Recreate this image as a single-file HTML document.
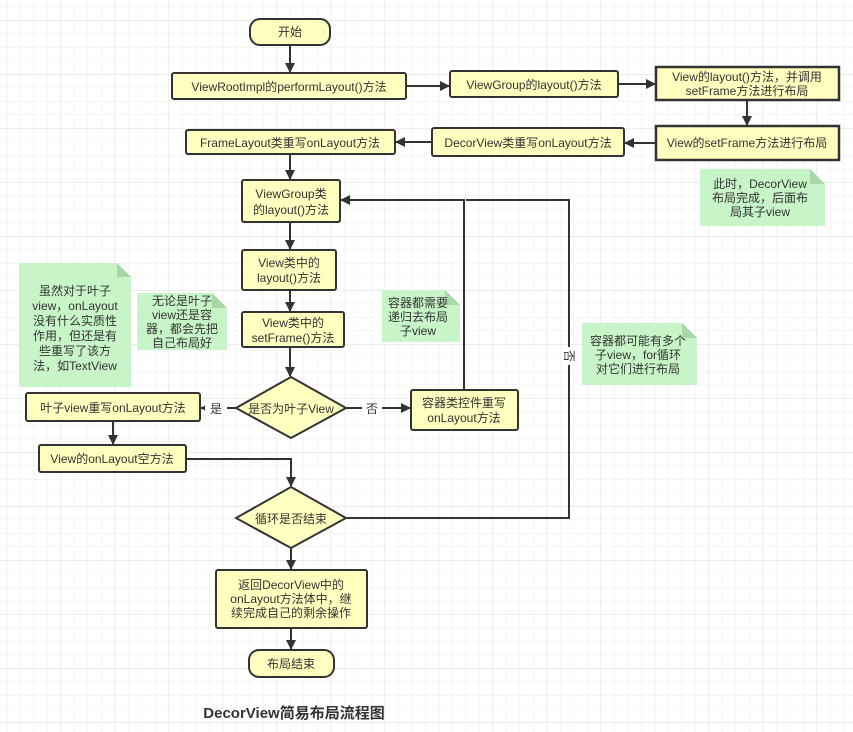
<!DOCTYPE html>
<html><head><meta charset="utf-8"><style>
html,body{margin:0;padding:0;background:#fff}
svg{display:block}
text{font-family:"Liberation Sans","Noto Sans CJK SC",sans-serif;font-size:12px;fill:#333}
</style></head><body>
<svg width="853" height="732" viewBox="0 0 853 732" xmlns="http://www.w3.org/2000/svg">
<defs>
<pattern id="minor" x="6.5" y="6.5" width="13.5" height="13.5" patternUnits="userSpaceOnUse">
<path d="M0 0H13.5M0 0V13.5" stroke="#f0f0f0" stroke-width="1.2" fill="none"/>
</pattern>
<pattern id="major" x="6.5" y="20" width="54" height="54" patternUnits="userSpaceOnUse">
<path d="M0 0H54M0 0V54" stroke="#e2e2e2" stroke-width="1.2" fill="none"/>
</pattern>
<marker id="a" markerWidth="10" markerHeight="10" refX="9" refY="5" orient="auto" markerUnits="userSpaceOnUse">
<path d="M0 0L10 5L0 10z" fill="#333"/>
</marker>
</defs>
<rect width="853" height="732" fill="url(#minor)"/>
<rect width="853" height="732" fill="url(#major)"/>

<g fill="#ffffc0" stroke="#333" stroke-width="2">
<rect x="250" y="19" width="80" height="26" rx="10"/>
<rect x="172" y="73" width="234" height="26" rx="2"/>
<rect x="450" y="71" width="168" height="26" rx="2"/>
<rect x="656" y="67" width="183" height="33" stroke-width="2.5"/>
<rect x="656" y="126" width="183" height="34" stroke-width="2.5"/>
<rect x="432" y="128" width="192" height="28" rx="2"/>
<rect x="186" y="130" width="209" height="24" rx="2"/>
<rect x="242" y="180" width="98" height="42" rx="2"/>
<rect x="242" y="250" width="94" height="40" rx="2"/>
<rect x="242" y="312" width="102" height="35" rx="2"/>
<polygon points="291,377 346,408 291,438 236,408"/>
<rect x="26" y="393" width="174" height="28" rx="2"/>
<rect x="411" y="390" width="107" height="40" rx="2"/>
<rect x="39" y="445" width="147" height="27" rx="2"/>
<polygon points="291,487 346,518 291,548 236,518"/>
<rect x="216" y="570" width="151" height="58" rx="2"/>
<rect x="249" y="650" width="85" height="27" rx="10"/>
</g>

<g fill="#c8f5c8">
<path d="M700 169H810L825 184V226H700z"/>
<path d="M19 263H117L131 277V387H19z"/>
<path d="M137 293H212L227 308V350H137z"/>
<path d="M382 290H445L460 305V342H382z"/>
<path d="M582 323H682L697 338V385H582z"/>
</g>
<g fill="#a8d8a8">
<path d="M810 169L825 184H810z"/><path d="M117 263L131 277H117z"/>
<path d="M212 293L227 308H212z"/><path d="M445 290L460 305H445z"/><path d="M682 323L697 338H682z"/>
</g>

<g stroke="#333" stroke-width="2" fill="none" marker-end="url(#a)">
<path d="M290 45V72"/>
<path d="M406 86H449"/>
<path d="M618 84H655"/>
<path d="M747 100V125"/>
<path d="M656 143H625"/>
<path d="M432 142H396"/>
<path d="M290 154V179"/>
<path d="M290 222V249"/>
<path d="M290 290V311"/>
<path d="M290 347V376"/>
<path d="M236 408H201"/>
<path d="M346 408H410"/>
<path d="M113 421V444"/>
<path d="M186 459H291V486"/>
<path d="M291 548V569"/>
<path d="M291 628V649"/>
<path d="M464 390V200H341"/>
<path d="M346 518H569V200H466" marker-end="none"/>
</g>
<rect x="205" y="400" width="22" height="16" fill="#fff"/>
<text x="216" y="413" text-anchor="middle">是</text>
<rect x="362" y="400" width="20" height="16" fill="#fff"/>
<text x="372" y="413" text-anchor="middle">否</text>
<rect x="561" y="347" width="16" height="18" fill="#fff"/>
<text x="569" y="356" text-anchor="middle" transform="rotate(90 569 356)" dy="4">否</text>

<g text-anchor="middle">
<text x="290" y="36">开始</text>
<text x="289" y="91">ViewRootImpl的performLayout()方法</text>
<text x="534" y="89">ViewGroup的layout()方法</text>
<text x="747" y="81">View的layout()方法，并调用</text>
<text x="747" y="95">setFrame方法进行布局</text>
<text x="747" y="147">View的setFrame方法进行布局</text>
<text x="528" y="147">DecorView类重写onLayout方法</text>
<text x="290" y="147">FrameLayout类重写onLayout方法</text>
<text x="291" y="198">ViewGroup类</text>
<text x="291" y="214">的layout()方法</text>
<text x="289" y="267">View类中的</text>
<text x="289" y="282">layout()方法</text>
<text x="293" y="327">View类中的</text>
<text x="293" y="342">setFrame()方法</text>
<text x="291" y="413">是否为叶子View</text>
<text x="113" y="412">叶子view重写onLayout方法</text>
<text x="464" y="407">容器类控件重写</text>
<text x="464" y="422">onLayout方法</text>
<text x="112" y="463">View的onLayout空方法</text>
<text x="291" y="523">循环是否结束</text>
<text x="291" y="589">返回DecorView中的</text>
<text x="291" y="603">onLayout方法体中，继</text>
<text x="291" y="617">续完成自己的剩余操作</text>
<text x="291" y="668">布局结束</text>
<text x="760" y="188">此时，DecorView</text>
<text x="760" y="202">布局完成，后面布</text>
<text x="760" y="216">局其子view</text>
<text x="75" y="295">虽然对于叶子</text>
<text x="75" y="310">view，onLayout</text>
<text x="75" y="325">没有什么实质性</text>
<text x="75" y="340">作用，但还是有</text>
<text x="75" y="355">些重写了该方</text>
<text x="75" y="370">法，如TextView</text>
<text x="182" y="305">无论是叶子</text>
<text x="182" y="319">view还是容</text>
<text x="182" y="333">器，都会先把</text>
<text x="182" y="347">自己布局好</text>
<text x="418" y="307">容器都需要</text>
<text x="418" y="321">递归去布局</text>
<text x="418" y="335">子view</text>
<text x="638" y="345">容器都可能有多个</text>
<text x="638" y="359">子view，for循环</text>
<text x="638" y="373">对它们进行布局</text>
<text x="294" y="718" style="font-size:15px;font-weight:bold">DecorView简易布局流程图</text>
</g>
</svg>
</body></html>
